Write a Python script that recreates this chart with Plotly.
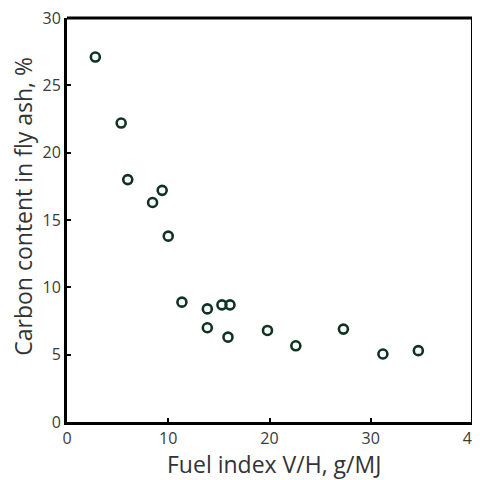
import plotly.graph_objects as go

fuel_index = [2.8, 5.35, 6.0, 8.45, 9.4, 10.0, 11.35, 13.86, 13.86, 15.3, 16.1, 15.9, 19.8, 22.6, 27.3, 31.2, 34.7]
carbon = [27.1, 22.2, 18.0, 16.3, 17.2, 13.8, 8.9, 8.4, 7.0, 8.7, 8.7, 6.3, 6.8, 5.66, 6.9, 5.05, 5.3]
x_ticks = [0, 10, 20, 30, 40]
y_ticks = [0, 5, 10, 15, 20, 25, 30]
x_title = "Fuel index V/H, g/MJ"
y_title = "Carbon content in fly ash, %"

fig = go.Figure()
fig.add_trace(go.Scatter(
    x=fuel_index, y=carbon, mode="markers",
    marker=dict(symbol="circle-open", size=9, color="#0f3322", line=dict(width=2.6, color="#0f3322")),
    showlegend=False, cliponaxis=False,
))

font_fam = "Open Sans, Lato, sans-serif"
# page body has an 8px margin, so the figure is sized to fill the rest of the window
fig.update_layout(
    width=472, height=472,
    margin=dict(l=59, r=8, t=10, b=58, autoexpand=False),
    plot_bgcolor="white", paper_bgcolor="white",
    font=dict(family=font_fam, color="#444"),
)
fig.update_xaxes(
    range=[0, 40], tickvals=x_ticks, ticks="inside", ticklen=4, tickwidth=2, tickcolor="black",
    showline=True, linecolor="black", linewidth=3, mirror=False, showgrid=False, zeroline=False,
    tickfont=dict(size=16, color="#3a3a3a"), automargin=False, ticklabeloverflow="allow",
)
fig.update_yaxes(
    range=[0, 30], tickvals=y_ticks, ticks="inside", ticklen=4, tickwidth=2, tickcolor="black",
    showline=True, linecolor="black", linewidth=3, mirror=False, showgrid=False, zeroline=False,
    tickfont=dict(size=16, color="#3a3a3a"), automargin=False, ticklabeloverflow="allow",
)
fig.add_annotation(text=x_title, xref="paper", yref="paper", x=0.511, y=-0.104,
                   xanchor="center", yanchor="middle", showarrow=False,
                   font=dict(size=23, color="#333", family=font_fam))
fig.add_annotation(text=y_title, xref="paper", yref="paper", x=-0.109, y=0.535,
                   xanchor="center", yanchor="middle", showarrow=False, textangle=-90,
                   font=dict(size=23, color="#333", family=font_fam))
# top and right frame lines
fig.add_shape(type="line", xref="paper", yref="paper", x0=0, x1=1, y0=1, y1=1, line=dict(color="black", width=3))
fig.add_shape(type="line", xref="paper", yref="paper", x0=1, x1=1, y0=0, y1=1, line=dict(color="black", width=2))

fig.write_html("out.html")
